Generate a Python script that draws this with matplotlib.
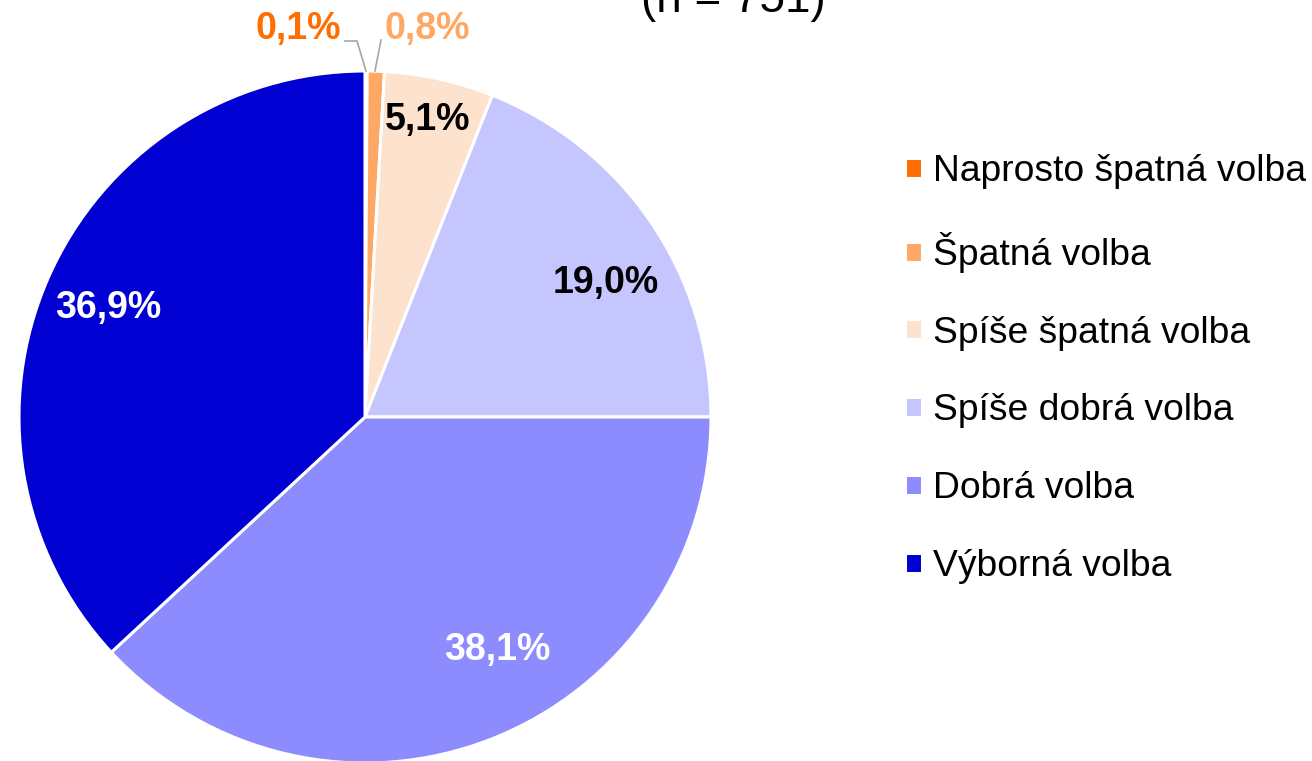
import matplotlib
matplotlib.use("Agg")
from matplotlib import pyplot as plt

# data
categories = ["Naprosto špatná volba", "Špatná volba", "Spíše špatná volba",
              "Spíše dobrá volba", "Dobrá volba", "Výborná volba"]
values = [0.1, 0.8, 5.1, 19.0, 38.1, 36.9]
labels = ["0,1%", "0,8%", "5,1%", "19,0%", "38,1%", "36,9%"]
title = "(n = 751)"

colors = ["#FF6E00", "#FFA866", "#FDE2CD", "#C6C6FF", "#8C8CFF", "#0000D2"]
label_colors = ["#FF6E00", "#FFA866", "black", "black", "white", "white"]
# label positions in pixels (x from left, y from top)
label_pos = [(298, 29), (427, 29), (428, 120), (606, 283), (497, 650), (108, 308)]

plt.rcParams['font.family'] = ['Liberation Sans', 'DejaVu Sans']

W, H = 1312, 761
fig = plt.figure(figsize=(W / 100, H / 100), dpi=100)
ax = fig.add_axes([0, 0, 1, 1])
ax.set_xlim(0, W)
ax.set_ylim(0, H)
ax.set_aspect('equal')
ax.axis('off')

cx, cy, R = 365, H - 417, 346
wedges, _ = ax.pie(values, colors=colors, startangle=90, counterclock=False,
                   center=(cx, cy), radius=R,
                   wedgeprops=dict(edgecolor='white', linewidth=2.2))
ax.set_xlim(0, W)
ax.set_ylim(0, H)

for lab, col, (px, py) in zip(labels, label_colors, label_pos):
    ax.text(px, H - py, lab, color=col, fontsize=27, fontweight='bold',
            ha='center', va='center')

# leader lines for the two small slices
ax.plot([345, 357, 366], [H - 41, H - 41, H - 71], color='#A6A6A6', lw=1.2)
ax.plot([381, 375], [H - 40, H - 71], color='#A6A6A6', lw=1.2)

ax.text(733, H - 12, title, fontsize=33, ha='center', va='baseline')

fig.legend(wedges, categories, loc='upper left', bbox_to_anchor=(905 / W, 1 - 154 / H),
           frameon=False, fontsize=26.8, handlelength=0.45, handleheight=0.45,
           handletextpad=0.3, labelspacing=1.15, borderaxespad=0, borderpad=0)

fig.savefig("out.png", dpi=100)
